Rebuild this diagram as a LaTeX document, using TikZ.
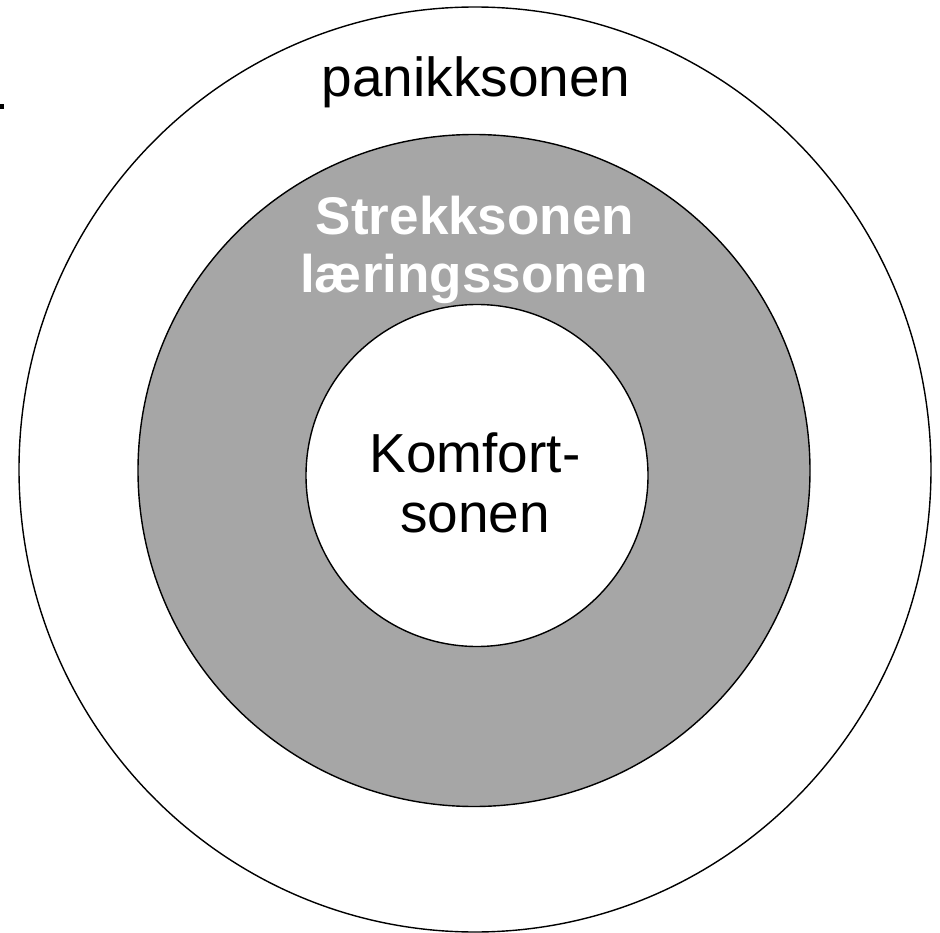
\documentclass[tikz,border=0pt]{standalone}
\usepackage{fontspec}
\setmainfont{Liberation Sans}
\definecolor{stretchgray}{RGB}{166,166,166}
\tikzset{
  zone/.style = {draw=black, line width=1.4pt},
  zonetext/.style = {anchor=base, inner sep=0pt, font=\fontsize{55}{60}\selectfont},
  boldtext/.style = {anchor=base, inner sep=0pt, text=white, font=\fontsize{53}{60}\selectfont\bfseries}
}
\begin{document}
\begin{tikzpicture}[x=1pt, y=-1pt, line join = round, line cap = round]
\useasboundingbox (0,0) rectangle (940,933);
\coordinate (O) at (475,469.5);
\coordinate (S) at (474,470.5);
\coordinate (K) at (477,475.5);

\draw[zone, fill=white] (O) ellipse [x radius=456, y radius=462.5];
\draw[zone, fill=stretchgray] (S) circle [radius=336];
\draw[zone, fill=white] (K) circle [radius=171];

\node[zonetext] (panikk) at (476,97) {panikksonen};
\node[boldtext] (strekk) at (475,235) {Strekksonen};
\node[boldtext] (laering) at (474,293) {læringssonen};
\node[zonetext] (komfort) at (475,472) {Komfort-};
\node[zonetext] (sonen) at (475,532) {sonen};

\fill (0,104) rectangle (4,109);
\end{tikzpicture}
\end{document}
